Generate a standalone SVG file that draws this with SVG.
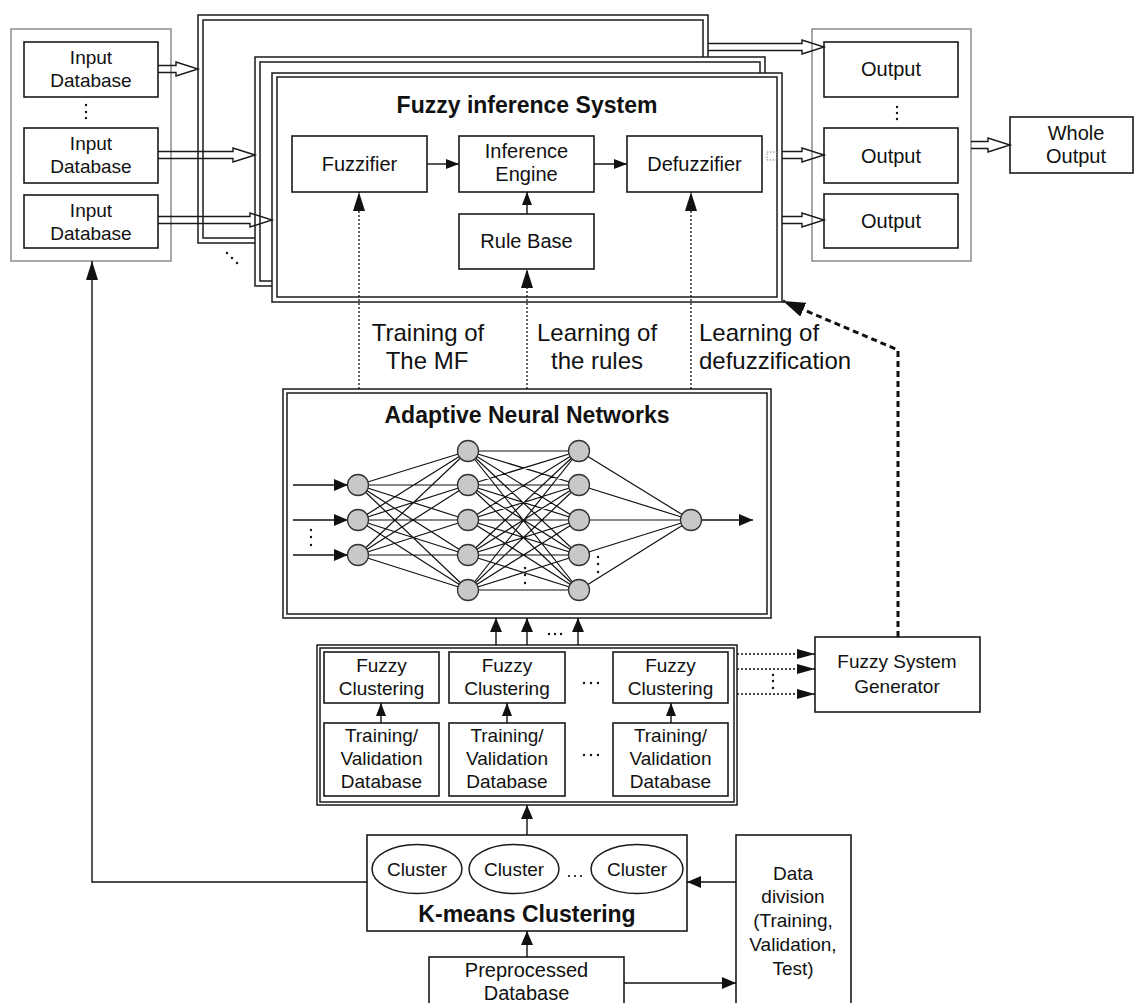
<svg xmlns="http://www.w3.org/2000/svg" width="1134" height="1003" viewBox="0 0 1134 1003">
<style>
.box{fill:#fff;stroke:#1a1a1a;stroke-width:1.6}
.frame{fill:#fff;stroke:#7a7a7a;stroke-width:1.3}
.dbl{fill:#fff;stroke:#1a1a1a;stroke-width:1.5}
.inner{fill:none;stroke:#1a1a1a;stroke-width:1.5}
.t{font-family:"Liberation Sans",Arial,sans-serif;font-size:20px;fill:#111;text-anchor:middle}
.s19{font-size:19px}
.lab{font-size:24px}
.b{font-weight:bold;font-size:23px}
.ln{stroke:#111;stroke-width:1.4;fill:none}
.dt{stroke-dasharray:2 2;stroke-width:1.3}
.hol{fill:none;stroke:#1a1a1a;stroke-width:1.4;stroke-linejoin:miter}
.nn{stroke:#111;stroke-width:1.2;fill:none}
.node{fill:#c8c8c8;stroke:#333;stroke-width:1.3}
.pt{fill:#111}
</style>
<defs>
<marker id="arr" markerUnits="userSpaceOnUse" markerWidth="13" markerHeight="10" refX="13" refY="5" orient="auto"><path d="M0,0 L13,5 L0,10 z" fill="#111"/></marker>
<marker id="arrM" markerUnits="userSpaceOnUse" markerWidth="14" markerHeight="12" refX="14" refY="6" orient="auto"><path d="M0,0 L14,6 L0,12 z" fill="#111"/></marker>
<marker id="arrL" markerUnits="userSpaceOnUse" markerWidth="19" markerHeight="12" refX="19" refY="6" orient="auto"><path d="M0,0 L19,6 L0,12 z" fill="#111"/></marker>
<marker id="arrD" markerUnits="userSpaceOnUse" markerWidth="18" markerHeight="10" refX="18" refY="5" orient="auto"><path d="M0,0 L18,5 L0,10 z" fill="#111"/></marker>
<marker id="arrX" markerUnits="userSpaceOnUse" markerWidth="22" markerHeight="15" refX="22" refY="7.5" orient="auto"><path d="M0,0 L22,7.5 L0,15 z" fill="#111"/></marker>
</defs>

<!-- Input frame -->
<g id="input-frame">
<rect class="frame" x="11" y="29" width="160" height="232"/>
<circle class="pt" cx="86" cy="105" r="1.2"/><circle class="pt" cx="86" cy="112" r="1.2"/><circle class="pt" cx="86" cy="118" r="1.2"/>
</g>
<g id="input1"><rect class="box" x="24" y="42" width="134" height="55"/><text class="t s19" x="91" y="64">Input</text><text class="t s19" x="91" y="87">Database</text></g>
<g id="input2"><rect class="box" x="24" y="128" width="134" height="55"/><text class="t s19" x="91" y="150">Input</text><text class="t s19" x="91" y="173">Database</text></g>
<g id="input3"><rect class="box" x="24" y="195" width="134" height="53"/><text class="t s19" x="91" y="217">Input</text><text class="t s19" x="91" y="240">Database</text></g>

<!-- Stacked FIS frames -->
<g id="fis-back1">
<rect class="dbl" x="198" y="15" width="510" height="228"/>
<rect class="inner" x="203" y="20" width="500" height="218"/>
</g>
<g id="fis-back2">
<rect class="dbl" x="255" y="57" width="510" height="229"/>
<rect class="inner" x="260" y="62" width="500" height="219"/>
</g>
<g id="fis">
<rect class="dbl" x="272" y="73" width="510" height="229"/>
<rect class="inner" x="277" y="77" width="500" height="220"/>
<text class="t b" x="527" y="113">Fuzzy inference System</text>
<rect x="767" y="152" width="10" height="8" fill="none" stroke="#888" stroke-width="1" stroke-dasharray="1.5 1.5"/>
</g>
<g id="fuzzifier"><rect class="box" x="292" y="136" width="135" height="56"/><text class="t" x="359.5" y="171">Fuzzifier</text></g>
<g id="inference-engine"><rect class="box" x="459" y="136" width="135" height="56"/><text class="t" x="526.5" y="158">Inference</text><text class="t" x="526.5" y="181">Engine</text></g>
<g id="defuzzifier"><rect class="box" x="627" y="136" width="135" height="56"/><text class="t" x="694.5" y="171">Defuzzifier</text></g>
<g id="rule-base"><rect class="box" x="459" y="214" width="135" height="55"/><text class="t" x="526.5" y="248">Rule Base</text></g>
<g id="dots-stack"><circle class="pt" cx="227" cy="253" r="1.2"/><circle class="pt" cx="232" cy="258" r="1.2"/><circle class="pt" cx="237" cy="263" r="1.2"/></g>

<!-- Output frame -->
<g id="output-frame">
<rect class="frame" x="812" y="29" width="159" height="232"/>
<circle class="pt" cx="897" cy="107" r="1.2"/><circle class="pt" cx="897" cy="113" r="1.2"/><circle class="pt" cx="897" cy="119" r="1.2"/>
</g>
<g id="output1"><rect class="box" x="824" y="42" width="134" height="55"/><text class="t" x="891" y="76">Output</text></g>
<g id="output2"><rect class="box" x="824" y="128" width="134" height="55"/><text class="t" x="891" y="163">Output</text></g>
<g id="output3"><rect class="box" x="824" y="194" width="134" height="54"/><text class="t" x="891" y="228">Output</text></g>
<g id="whole-output"><rect class="box" x="1010" y="117" width="123" height="56"/><text class="t" x="1076" y="140">Whole</text><text class="t" x="1076" y="163">Output</text></g>

<!-- Labels -->
<g id="labels">
<text class="t lab" x="428" y="341">Training of</text>
<text class="t lab" x="427" y="369">The MF</text>
<text class="t lab" x="597" y="341">Learning of</text>
<text class="t lab" x="597" y="369">the rules</text>
<text class="t lab" x="699" y="341" style="text-anchor:start">Learning of</text>
<text class="t lab" x="699" y="369" style="text-anchor:start">defuzzification</text>
</g>

<!-- ANN -->
<g id="ann">
<rect class="dbl" x="283" y="389" width="488" height="229"/>
<rect class="inner" x="287" y="393" width="480" height="221"/>
<text class="t b" x="527" y="423">Adaptive Neural Networks</text>
<path class="nn" d="M358 485L468 451M358 485L468 485M358 485L468 520M358 485L468 555M358 485L468 590M358 520L468 451M358 520L468 485M358 520L468 520M358 520L468 555M358 520L468 590M358 555L468 451M358 555L468 485M358 555L468 520M358 555L468 555M358 555L468 590"/>
<path class="nn" d="M468 451L579 451M468 451L579 485M468 451L579 520M468 451L579 555M468 451L579 590M468 485L579 451M468 485L579 485M468 485L579 520M468 485L579 555M468 485L579 590M468 520L579 451M468 520L579 485M468 520L579 520M468 520L579 555M468 520L579 590M468 555L579 451M468 555L579 485M468 555L579 520M468 555L579 555M468 555L579 590M468 590L579 451M468 590L579 485M468 590L579 520M468 590L579 555M468 590L579 590"/>
<path class="nn" d="M579 451L691 520M579 485L691 520M579 520L691 520M579 555L691 520M579 590L691 520"/>
<line class="ln" x1="293" y1="485" x2="348" y2="485" marker-end="url(#arrM)"/>
<line class="ln" x1="293" y1="520" x2="348" y2="520" marker-end="url(#arrM)"/>
<line class="ln" x1="293" y1="555" x2="348" y2="555" marker-end="url(#arrM)"/>
<line class="ln" x1="701" y1="520" x2="753" y2="520" marker-end="url(#arrM)"/>
<circle class="node" cx="358" cy="485" r="10.5"/><circle class="node" cx="358" cy="520" r="10.5"/><circle class="node" cx="358" cy="555" r="10.5"/>
<circle class="node" cx="468" cy="451" r="10.5"/><circle class="node" cx="468" cy="485" r="10.5"/><circle class="node" cx="468" cy="520" r="10.5"/><circle class="node" cx="468" cy="555" r="10.5"/><circle class="node" cx="468" cy="590" r="10.5"/>
<circle class="node" cx="579" cy="451" r="10.5"/><circle class="node" cx="579" cy="485" r="10.5"/><circle class="node" cx="579" cy="520" r="10.5"/><circle class="node" cx="579" cy="555" r="10.5"/><circle class="node" cx="579" cy="590" r="10.5"/>
<circle class="node" cx="691" cy="520" r="10.5"/>
<circle class="pt" cx="311" cy="530" r="1.2"/><circle class="pt" cx="311" cy="537" r="1.2"/><circle class="pt" cx="311" cy="545" r="1.2"/>
<circle class="pt" cx="525" cy="568" r="1.2"/><circle class="pt" cx="525" cy="575" r="1.2"/><circle class="pt" cx="525" cy="583" r="1.2"/>
<circle class="pt" cx="598" cy="557" r="1.2"/><circle class="pt" cx="598" cy="564" r="1.2"/><circle class="pt" cx="598" cy="572" r="1.2"/>
</g>

<!-- Clustering frame -->
<g id="clustering-frame">
<rect class="dbl" x="317" y="645" width="420" height="160"/>
<rect class="inner" x="320" y="648" width="414" height="154"/>
<circle class="pt" cx="584" cy="683" r="1.2"/><circle class="pt" cx="591" cy="683" r="1.2"/><circle class="pt" cx="598" cy="683" r="1.2"/>
<circle class="pt" cx="584" cy="755" r="1.2"/><circle class="pt" cx="591" cy="755" r="1.2"/><circle class="pt" cx="598" cy="755" r="1.2"/>
</g>
<g id="fc1"><rect class="box" x="324" y="652" width="115" height="51"/><text class="t s19" x="381.5" y="672">Fuzzy</text><text class="t s19" x="381.5" y="695">Clustering</text></g>
<g id="fc2"><rect class="box" x="449" y="652" width="116" height="51"/><text class="t s19" x="507" y="672">Fuzzy</text><text class="t s19" x="507" y="695">Clustering</text></g>
<g id="fc3"><rect class="box" x="613" y="652" width="115" height="51"/><text class="t s19" x="670.5" y="672">Fuzzy</text><text class="t s19" x="670.5" y="695">Clustering</text></g>
<g id="tv1"><rect class="box" x="324" y="723" width="115" height="73"/><text class="t s19" x="381.5" y="742">Training/</text><text class="t s19" x="381.5" y="765">Validation</text><text class="t s19" x="381.5" y="788">Database</text></g>
<g id="tv2"><rect class="box" x="449" y="723" width="116" height="73"/><text class="t s19" x="507" y="742">Training/</text><text class="t s19" x="507" y="765">Validation</text><text class="t s19" x="507" y="788">Database</text></g>
<g id="tv3"><rect class="box" x="613" y="723" width="115" height="73"/><text class="t s19" x="670.5" y="742">Training/</text><text class="t s19" x="670.5" y="765">Validation</text><text class="t s19" x="670.5" y="788">Database</text></g>

<g id="fuzzy-system-generator"><rect class="box" x="815" y="637" width="165" height="75"/><text class="t s19" x="897" y="668">Fuzzy System</text><text class="t s19" x="897" y="693">Generator</text></g>

<!-- K-means -->
<g id="kmeans">
<rect class="box" x="367" y="835" width="320" height="96"/>
<ellipse cx="417" cy="869" rx="45" ry="24.5" fill="#fff" stroke="#1a1a1a" stroke-width="1.5"/>
<ellipse cx="514" cy="869" rx="45" ry="24.5" fill="#fff" stroke="#1a1a1a" stroke-width="1.5"/>
<ellipse cx="637" cy="869" rx="46" ry="24.5" fill="#fff" stroke="#1a1a1a" stroke-width="1.5"/>
<text class="t s19" x="417" y="876">Cluster</text>
<text class="t s19" x="514" y="876">Cluster</text>
<text class="t s19" x="637" y="876">Cluster</text>
<circle class="pt" cx="569" cy="876" r="1.1"/><circle class="pt" cx="575" cy="876" r="1.1"/><circle class="pt" cx="581" cy="876" r="1.1"/>
<text class="t b" x="527" y="922">K-means Clustering</text>
</g>
<g id="preprocessed"><rect class="box" x="429" y="957" width="195" height="60"/><text class="t" x="526.5" y="977">Preprocessed</text><text class="t" x="526.5" y="1000">Database</text></g>
<g id="data-division"><rect class="box" x="736" y="835" width="115" height="180"/>
<text class="t s19" x="793" y="880">Data</text><text class="t s19" x="793" y="903">division</text><text class="t s19" x="793" y="927">(Training,</text><text class="t s19" x="793" y="951">Validation,</text><text class="t s19" x="793" y="975">Test)</text></g>

<!-- Connectors -->
<g id="connectors">
<path class="hol" d="M158 65.5H176V62L198 69L176 76V72.5H158"/>
<path class="hol" d="M158 151.5H233V148L255 155L233 162V158.5H158"/>
<path class="hol" d="M158 216.5H250V213L272 220L250 227V223.5H158"/>
<path class="hol" d="M708 43.5H802V40L824 47L802 54V50.5H708"/>
<path class="hol" d="M782 151.5H802V148L824 155L802 162V158.5H782"/>
<path class="hol" d="M782 216.5H802V213L824 220L802 227V223.5H782"/>
<path class="hol" d="M971 141.5H988V138L1010 145L988 152V148.5H971"/>
<line class="ln" x1="427" y1="164" x2="459" y2="164" marker-end="url(#arr)"/>
<line class="ln" x1="594" y1="164" x2="627" y2="164" marker-end="url(#arr)"/>
<line class="ln" x1="527" y1="214" x2="527" y2="192" marker-end="url(#arr)"/>
<line class="ln dt" x1="359" y1="389" x2="359" y2="192" marker-end="url(#arrL)"/>
<line class="ln dt" x1="527" y1="389" x2="527" y2="269" marker-end="url(#arrL)"/>
<line class="ln dt" x1="691" y1="389" x2="691" y2="192" marker-end="url(#arrL)"/>
<line class="ln" x1="496" y1="645" x2="496" y2="618" marker-end="url(#arrM)"/>
<line class="ln" x1="527" y1="645" x2="527" y2="618" marker-end="url(#arrM)"/>
<line class="ln" x1="578" y1="645" x2="578" y2="618" marker-end="url(#arrM)"/>
<circle class="pt" cx="549" cy="634" r="1.2"/><circle class="pt" cx="555" cy="634" r="1.2"/><circle class="pt" cx="561" cy="634" r="1.2"/>
<line class="ln" x1="381" y1="723" x2="381" y2="703" marker-end="url(#arr)"/>
<line class="ln" x1="507" y1="723" x2="507" y2="703" marker-end="url(#arr)"/>
<line class="ln" x1="671" y1="723" x2="671" y2="703" marker-end="url(#arr)"/>
<line class="ln dt" x1="737" y1="654" x2="815" y2="654" marker-end="url(#arrD)"/>
<line class="ln dt" x1="737" y1="669" x2="815" y2="669" marker-end="url(#arrD)"/>
<line class="ln dt" x1="737" y1="694" x2="815" y2="694" marker-end="url(#arrD)"/>
<circle class="pt" cx="773" cy="675" r="1.2"/><circle class="pt" cx="773" cy="681" r="1.2"/><circle class="pt" cx="773" cy="688" r="1.2"/>
<path d="M898 637V350L783 301" fill="none" stroke="#111" stroke-width="3" stroke-dasharray="6 4" marker-end="url(#arrX)"/>
<line class="ln" x1="527" y1="835" x2="527" y2="805" marker-end="url(#arrM)"/>
<line class="ln" x1="527" y1="957" x2="527" y2="931" marker-end="url(#arrM)"/>
<line class="ln" x1="624" y1="983" x2="736" y2="983" marker-end="url(#arrM)"/>
<line class="ln" x1="736" y1="882" x2="687" y2="882" marker-end="url(#arrM)"/>
<path class="ln" d="M367 882H92V261" marker-end="url(#arrL)"/>
</g>
</svg>
